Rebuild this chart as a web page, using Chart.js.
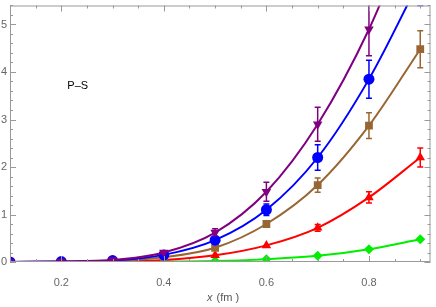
<!DOCTYPE html>
<html>
<head>
<meta charset="utf-8">
<script src="https://cdn.jsdelivr.net/npm/chart.js@4.4.1/dist/chart.umd.min.js"></script>
<style>
  html, body { margin: 0; padding: 0; background: #fff; }
  #wrap { width: 436px; height: 307px; }
</style>
</head>
<body>
<div id="wrap"><canvas id="chart" width="436" height="307"></canvas></div>
<script>
var xs = [0.1, 0.2, 0.3, 0.4, 0.5, 0.6, 0.7, 0.8, 0.9];
var xTicks = [0.2, 0.4, 0.6, 0.8];
var yTicks = [0, 1, 2, 3, 4, 5];

var purple = [0.0, 0.01, 0.04, 0.2, 0.62, 1.48, 2.9, 4.9, 7.5];
var purpleErr = [0, 0, 0.02, 0.04, 0.08, 0.2, 0.36, 0.56, 0.8];
var blue = [0.0, 0.01, 0.03, 0.15, 0.46, 1.1, 2.2, 3.85, 5.95];
var blueErr = [0, 0, 0.01, 0.02, 0.06, 0.12, 0.27, 0.4, 0.55];
var brown = [0.0, 0.0, 0.02, 0.1, 0.3, 0.8, 1.62, 2.87, 4.48];
var brownErr = [0, 0, 0.01, 0.02, 0.04, 0.07, 0.15, 0.27, 0.39];
var red = [0.0, 0.0, 0.01, 0.04, 0.14, 0.35, 0.72, 1.36, 2.2];
var redErr = [0, 0, 0, 0.01, 0.02, 0.04, 0.07, 0.12, 0.2];
var green = [0.0, 0.0, 0.0, 0.01, 0.02, 0.06, 0.13, 0.27, 0.48];
var greenErr = [0, 0, 0, 0, 0, 0.01, 0.01, 0.02, 0.03];

function pts(ys) {
    return xs.map(function (x, i) { return { x: x, y: ys[i] }; });
}

function series(label, ys, errs, color, style, radius, rot) {
    return {
        label: label,
        data: pts(ys),
        errors: errs,
        borderColor: color,
        backgroundColor: color,
        pointStyle: style,
        pointRadius: radius,
        pointRotation: rot || 0,
        pointBorderWidth: 0,
        borderWidth: 2,
        cubicInterpolationMode: 'monotone',
        showLine: true,
        clip: 0
    };
}

var frame = {
    id: 'frame',
    afterDatasetsDraw: function (chart) {
        var ctx = chart.ctx;
        var xa = chart.scales.x, ya = chart.scales.y;
        var a = chart.chartArea;
        ctx.save();
        // error bars
        ctx.beginPath();
        ctx.rect(a.left, a.top, a.right - a.left, a.bottom - a.top);
        ctx.clip();
        chart.data.datasets.forEach(function (ds) {
            ctx.strokeStyle = ds.borderColor;
            ctx.lineWidth = 1.5;
            ds.data.forEach(function (p, i) {
                var e = ds.errors[i];
                if (!e) return;
                var px = xa.getPixelForValue(p.x);
                var y1 = ya.getPixelForValue(p.y + e);
                var y2 = ya.getPixelForValue(p.y - e);
                if (y2 - y1 < 4) return;
                ctx.beginPath();
                ctx.moveTo(px, y1); ctx.lineTo(px, y2);
                ctx.moveTo(px - 3, y1); ctx.lineTo(px + 3, y1);
                ctx.moveTo(px - 3, y2); ctx.lineTo(px + 3, y2);
                ctx.stroke();
            });
        });
        ctx.restore();

        ctx.save();
        ctx.strokeStyle = '#999';
        ctx.lineWidth = 1;
        ctx.strokeRect(a.left + 0.5, a.top + 0.5, a.right - a.left - 1, a.bottom - a.top - 1);
        var v, px, len;
        ctx.beginPath();
        for (v = 0.1; v < 0.93; v += 0.05) {
            px = Math.round(xa.getPixelForValue(v)) + 0.5;
            len = (Math.abs(v * 5 - Math.round(v * 5)) < 0.01) ? 6 : 3;
            ctx.moveTo(px, a.bottom); ctx.lineTo(px, a.bottom - len);
            ctx.moveTo(px, a.top); ctx.lineTo(px, a.top + len);
        }
        for (v = 0; v < 5.5; v += 0.2) {
            px = Math.round(ya.getPixelForValue(v)) + 0.5;
            len = (Math.abs(v - Math.round(v)) < 0.01) ? 6 : 3;
            ctx.moveTo(a.left, px); ctx.lineTo(a.left + len, px);
            ctx.moveTo(a.right, px); ctx.lineTo(a.right - len, px);
        }
        ctx.stroke();

        // y tick labels (axis is squeezed to the left edge)
        ctx.fillStyle = '#666';
        ctx.font = '11px "Liberation Sans", sans-serif';
        ctx.textAlign = 'right';
        ctx.textBaseline = 'middle';
        yTicks.forEach(function (t) {
            ctx.fillText(String(t), a.left - 3, ya.getPixelForValue(t));
        });

        // labels
        ctx.fillStyle = '#000';
        ctx.textAlign = 'center';
        ctx.fillText('P\u2013S', xa.getPixelForValue(0.232), ya.getPixelForValue(3.7));

        ctx.fillStyle = '#555';
        ctx.textAlign = 'left';
        ctx.font = 'italic 11px "Liberation Sans", sans-serif';
        var tx = 207, ty = 298;
        ctx.fillText('x', tx, ty);
        ctx.font = '11px "Liberation Sans", sans-serif';
        ctx.fillText(' (fm )', tx + ctx.measureText('x').width + 1, ty);
        ctx.restore();
    }
};

new Chart(document.getElementById('chart').getContext('2d'), {
    type: 'scatter',
    data: {
        datasets: [
            series('purple', purple, purpleErr, '#800080', 'triangle', 5.5, 180),
            series('blue', blue, blueErr, '#0000ff', 'circle', 5.5),
            series('brown', brown, brownErr, '#996633', 'rect', 5.5),
            series('red', red, redErr, '#ff0000', 'triangle', 5.5),
            series('green', green, greenErr, '#00ee00', 'rectRot', 5)
        ]
    },
    options: {
        responsive: false,
        animation: false,
        layout: { padding: { left: 0, right: 3, top: 0, bottom: 0 } },
        plugins: {
            legend: { display: false },
            tooltip: { enabled: false }
        },
        scales: {
            x: {
                type: 'linear',
                min: 0.1,
                max: 0.92,
                grid: { display: false },
                border: { display: false },
                afterBuildTicks: function (s) { s.ticks = xTicks.map(function (v) { return { value: v }; }); },
                afterFit: function (s) { s.height = 45; },
                ticks: {
                    color: '#666',
                    font: { family: 'Liberation Sans', size: 11 },
                    padding: 6,
                    maxRotation: 0,
                    callback: function (v) { return v.toFixed(1); }
                }
            },
            y: {
                min: 0,
                max: 5.4,
                grid: { display: false },
                border: { display: false },
                afterBuildTicks: function (s) { s.ticks = yTicks.map(function (v) { return { value: v }; }); },
                afterFit: function (s) { s.width = 10; },
                ticks: { display: false }
            }
        }
    },
    plugins: [frame]
});
</script>
</body>
</html>
